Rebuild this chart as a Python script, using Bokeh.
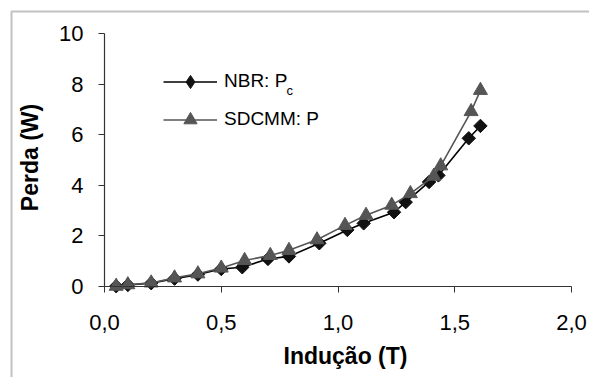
from bokeh.plotting import figure
from bokeh.models import Range1d, FixedTicker, Legend, LegendItem, Label, BoxAnnotation
from bokeh.embed import file_html
from bokeh.resources import INLINE
import numpy as np

# Data
x_nbr = [0.05, 0.10, 0.20, 0.30, 0.40, 0.50, 0.59, 0.70, 0.79, 0.92, 1.04, 1.11, 1.24, 1.29, 1.39, 1.43, 1.56, 1.61]
p_nbr = [0.00, 0.05, 0.12, 0.30, 0.46, 0.68, 0.75, 1.08, 1.18, 1.70, 2.23, 2.49, 2.93, 3.33, 4.13, 4.39, 5.86, 6.35]

x_sdcmm = [0.05, 0.10, 0.20, 0.30, 0.40, 0.50, 0.60, 0.71, 0.79, 0.91, 1.03, 1.12, 1.23, 1.31, 1.41, 1.44, 1.57, 1.61]
p_sdcmm = [0.00, 0.06, 0.13, 0.33, 0.49, 0.72, 1.02, 1.22, 1.42, 1.84, 2.41, 2.81, 3.21, 3.67, 4.36, 4.77, 6.92, 7.76]

x_ticks = [0.0, 0.5, 1.0, 1.5, 2.0]
x_tick_labels = ["0,0", "0,5", "1,0", "1,5", "2,0"]
y_ticks = [0, 2, 4, 6, 8, 10]
y_tick_labels = ["0", "2", "4", "6", "8", "10"]

FONT = "Liberation Sans"
W, H = 589, 377
X0PX, XPX = 104.0, 233.5      # pixel of x=0, pixels per unit
Y0PX, YPX = 285.7, 25.24      # pixel of y=0, pixels per unit

p = figure(width=W, height=H,
           x_range=Range1d(-X0PX / XPX, (W - X0PX) / XPX),
           y_range=Range1d(-(H - Y0PX) / YPX, Y0PX / YPX),
           output_backend="svg", toolbar_location=None,
           min_border_left=0, min_border_right=0, min_border_top=0, min_border_bottom=0)
p.grid.visible = False
p.outline_line_color = None
p.background_fill_color = "white"
p.border_fill_color = "white"

# outer chart border
p.add_layout(BoxAnnotation(left=11, top=11, right=2000, bottom=2000,
                           left_units="canvas", right_units="canvas",
                           top_units="canvas", bottom_units="canvas",
                           fill_alpha=0, line_color="#333333", line_width=2,
                           level="overlay"))

# NBR series
l1 = p.line(x_nbr, p_nbr, line_color="#000000", line_width=1.6)
s1 = p.scatter(x_nbr, p_nbr, marker="square", angle=np.pi / 4, size=9.5,
               fill_color="#111111", line_color="#111111")
s1_leg = p.scatter(x_nbr, p_nbr, marker="diamond", size=13,
                   fill_color="#111111", line_color="#111111", visible=False)
# SDCMM series
l2 = p.line(x_sdcmm, p_sdcmm, line_color="#555555", line_width=1.6)
s2 = p.scatter(x_sdcmm, p_sdcmm, marker="triangle", size=14,
               fill_color="#555555", line_color="#555555")

# Axes (drawn at the origin, inside the frame)
xa = p.xaxis[0]
xa.ticker = FixedTicker(ticks=x_ticks)
xa.major_label_overrides = dict(zip(x_ticks, x_tick_labels))
xa.fixed_location = 0
xa.bounds = (0, 2.0)

ya = p.yaxis[0]
ya.ticker = FixedTicker(ticks=y_ticks)
ya.major_label_overrides = dict(zip(y_ticks, y_tick_labels))
ya.fixed_location = 0
ya.bounds = (0, 10)

for ax in (xa, ya):
    ax.axis_line_color = "#333333"
    ax.axis_line_width = 1.2
    ax.major_tick_line_color = "#333333"
    ax.major_tick_in = 0
    ax.major_tick_out = 6
    ax.minor_tick_line_color = None
    ax.major_label_text_font = FONT
    ax.major_label_text_font_size = "22px"
    ax.major_label_text_color = "black"

xa.major_label_standoff = 23
ya.major_label_standoff = 15

# axis titles
p.add_layout(Label(x=1.032, y=-2.75, text="Indução (T)",
                   text_font=FONT, text_font_size="23px", text_font_style="bold",
                   text_color="black", text_align="center", text_baseline="alphabetic"))
p.add_layout(Label(x=-0.317, y=5.1, text="Perda (W)", angle=np.pi / 2,
                   text_font=FONT, text_font_size="23px", text_font_style="bold",
                   text_color="black", text_align="center", text_baseline="middle"))

legend = Legend(items=[LegendItem(label="NBR: P", renderers=[l1, s1_leg]),
                       LegendItem(label="SDCMM: P", renderers=[l2, s2])],
                location=(163, 241.5), orientation="vertical",
                glyph_width=54, glyph_height=33, label_standoff=7,
                spacing=5, padding=0, margin=0,
                border_line_color=None, background_fill_alpha=0,
                inactive_fill_alpha=0,
                label_text_font=FONT, label_text_font_size="19px",
                label_text_color="black")
p.add_layout(legend, "center")

sub = Label(x=0.779, y=7.75, text="c", text_font=FONT, text_font_size="13px",
            text_color="black", text_baseline="alphabetic")
p.add_layout(sub)

open("out.html", "w").write(file_html(p, INLINE))
